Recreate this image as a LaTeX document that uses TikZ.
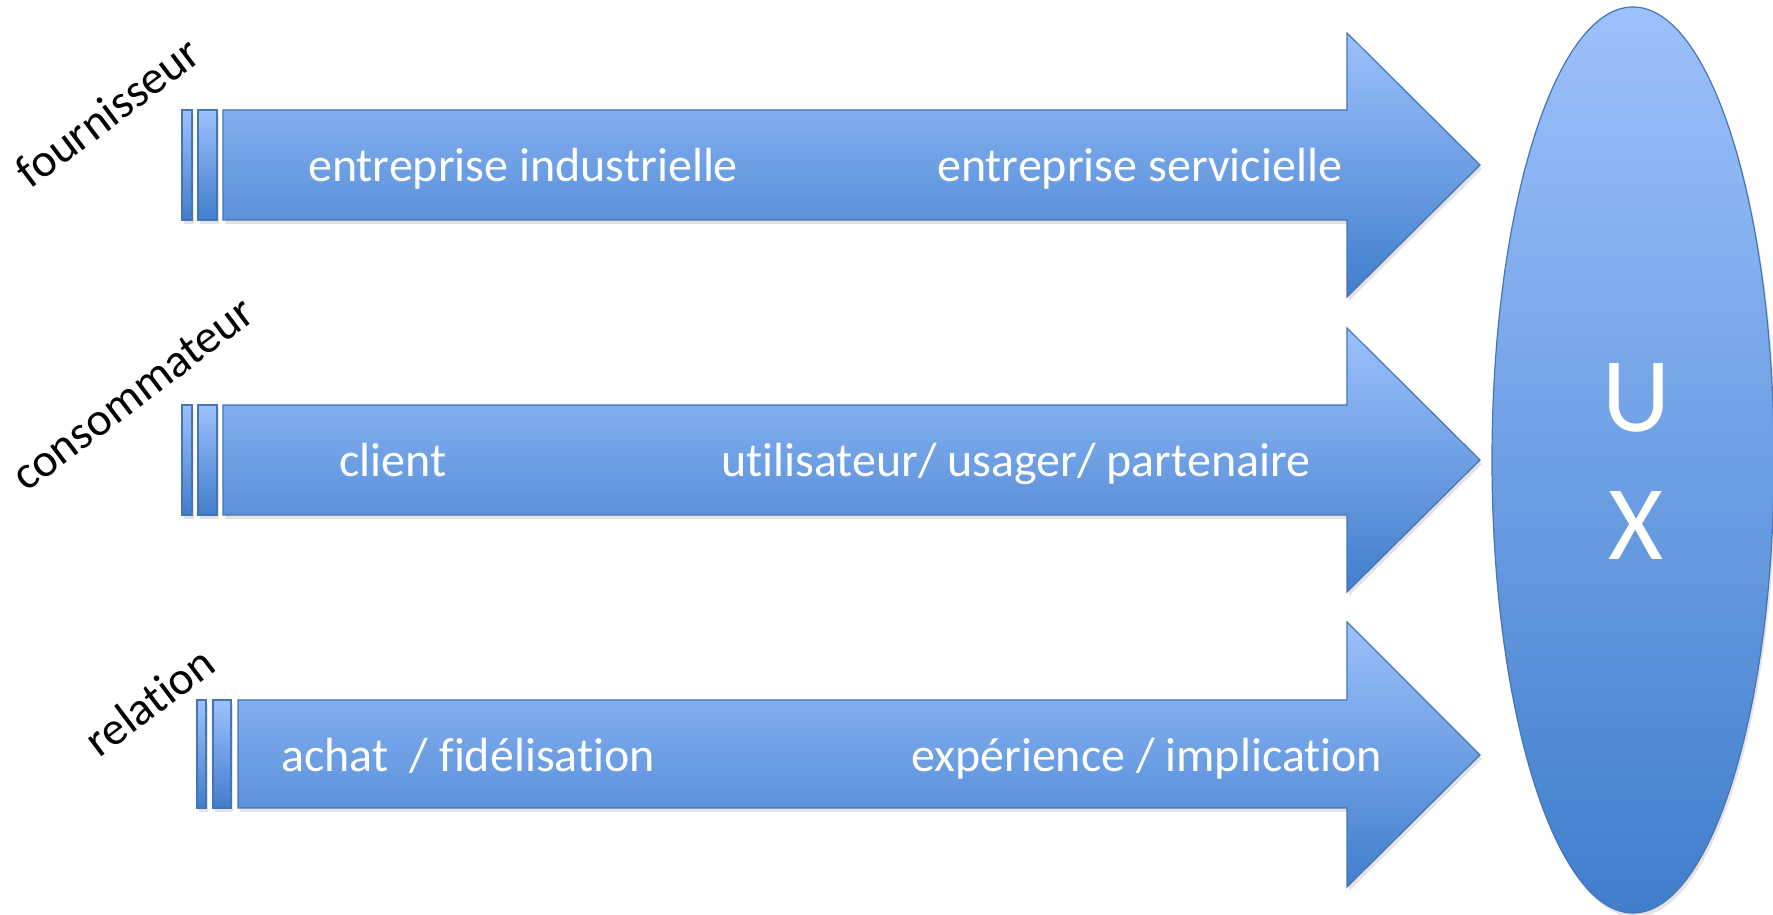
\documentclass[tikz,border=0pt]{standalone}
\usepackage{fontspec}
\setmainfont{Carlito}[Ligatures={NoCommon}]
\usetikzlibrary{shadows}
\definecolor{lightblue}{RGB}{156,193,252}
\definecolor{darkblue}{RGB}{64,126,204}
\definecolor{edgeblue}{RGB}{70,116,180}
\tikzset{
  bluefill/.style={draw=edgeblue, line width=1.2pt, top color=lightblue, bottom color=darkblue,
    drop shadow={opacity=0.22, shadow xshift=2pt, shadow yshift=-4pt}},
  rowtext/.style={text=white, anchor=base west, inner sep=0pt, font=\fontsize{48}{56}\selectfont},
  sidelabel/.style={text=black, anchor=base, inner sep=0pt, rotate=37, font=\fontsize{47}{56}\selectfont},
  uxtext/.style={text=white, anchor=base, inner sep=0pt, font=\fontsize{106}{120}\selectfont}
}
\begin{document}
\begin{tikzpicture}[x=1pt,y=1pt]
\useasboundingbox (0,0) rectangle (1773,915);

% Ellipse
\path[bluefill] (1633,455) ellipse [x radius=141, y radius=453];
\node[uxtext] (u) at (1636,483) {U};
\node[uxtext] (x) at (1636,355) {X};

% Arrow 1
\path[bluefill] (182,695) rectangle (192,805);
\path[bluefill] (198,695) rectangle (217,805);
\path[bluefill] (223,695) -- (1347,695) -- (1347,618) -- (1480,750) -- (1347,882) -- (1347,805) -- (223,805) -- cycle;
\node[rowtext] (t11) at (308,733) {entreprise industrielle};
\node[rowtext] (t12) at (937,733) {entreprise servicielle};

% Arrow 2
\path[bluefill] (182,400) rectangle (192,510);
\path[bluefill] (198,400) rectangle (217,510);
\path[bluefill] (223,400) -- (1347,400) -- (1347,323) -- (1480,455) -- (1347,587) -- (1347,510) -- (223,510) -- cycle;
\node[rowtext] (t21) at (339,438) {client};
\node[rowtext] (t22) at (721,438) {utilisateur/ usager/ partenaire};

% Arrow 3
\path[bluefill] (197,107) rectangle (206,215);
\path[bluefill] (213,107) rectangle (231,215);
\path[bluefill] (238,107) -- (1347,107) -- (1347,28) -- (1480,160) -- (1347,293) -- (1347,215) -- (238,215) -- cycle;
\node[rowtext] (t31) at (281,143) {achat\ \ / fidélisation};
\node[rowtext] (t32) at (911,143) {expérience / implication};

% Side labels
\node[sidelabel] (l1) at (117,790) {fournisseur};
\node[sidelabel] (l2) at (142,509) {consommateur};
\node[sidelabel] (l3) at (159,201) {relation};
\end{tikzpicture}
\end{document}
